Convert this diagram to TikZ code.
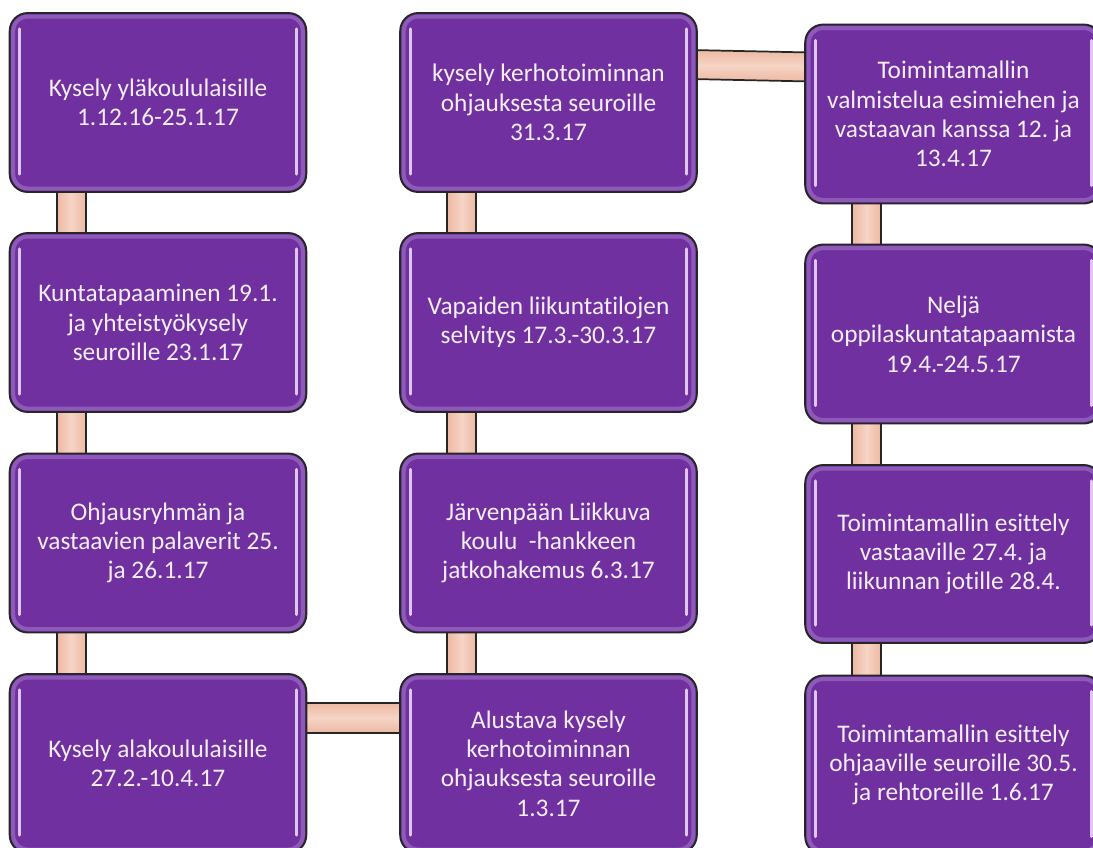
\documentclass[tikz,border=0pt]{standalone}
\usepackage{fontspec}
\setmainfont{Carlito}[Ligatures=NoCommon]
\usetikzlibrary{calc,backgrounds}
\definecolor{boxpurple}{HTML}{7030A0}
\definecolor{boxedge}{HTML}{262626}
\definecolor{boxtext}{HTML}{F4EEF9}
\definecolor{glossrim}{HTML}{A57FCB}
\definecolor{streakcol}{HTML}{EAD7F8}
\definecolor{linkfill}{HTML}{EDB9A3}
\definecolor{linkmid}{HTML}{F6D4C5}
\frenchspacing
\begin{document}
\begin{tikzpicture}[x=0.75pt,y=-0.75pt,
  stage/.style={rectangle, rounded corners=13.5pt, fill=boxpurple, draw=boxedge,
    line width=1.4pt, text=boxtext, align=center, inner sep=0pt, outer sep=0pt,
    minimum width=222.5pt, minimum height=134.25pt,
    font=\fontsize{19pt}{22pt}\selectfont},
  vlink/.style={draw=boxedge, line width=1.3pt, left color=linkfill, right color=linkfill, middle color=linkmid},
  hlink/.style={draw=boxedge, line width=1.3pt, top color=linkfill, bottom color=linkfill, middle color=linkmid},
  rim/.style={draw=glossrim, line width=3pt, rounded corners=11pt, opacity=0.55},
  streakline/.style={draw=streakcol, line width=2.4pt, line cap=round, opacity=0.9}]
\useasboundingbox (0,0) rectangle (1093,847);
\clip (0,0) rectangle (1093,847);

% first column
\node[stage] (c1r1) at (158,102.5) {Kysely yläkoululaisille\\1.12.16-25.1.17};
\node[stage] (c1r2) at (158,322.5) {Kuntatapaaminen 19.1.\\ja yhteistyökysely\\seuroille 23.1.17};
\node[stage] (c1r3) at (158,543) {Ohjausryhmän ja\\vastaavien palaverit 25.\\ja 26.1.17};
\node[stage] (c1r4) at (158,763.5) {Kysely alakoululaisille\\27.2.-10.4.17};

% second column
\node[stage] (c2r1) at (548.5,102.5) {kysely kerhotoiminnan\\ohjauksesta seuroille\\31.3.17};
\node[stage] (c2r2) at (548.5,322.5) {Vapaiden liikuntatilojen\\selvitys 17.3.-30.3.17};
\node[stage] (c2r3) at (548.5,543) {Järvenpään Liikkuva\\koulu\ \ -hankkeen\\jatkohakemus 6.3.17};
\node[stage] (c2r4) at (548.5,763.5) {Alustava kysely\\kerhotoiminnan\\ohjauksesta seuroille\\1.3.17};

% third column
\node[stage] (c3r1) at (953.5,114) {Toimintamallin\\valmistelua esimiehen ja\\vastaavan kanssa 12. ja\\13.4.17};
\node[stage] (c3r2) at (953.5,334) {Neljä\\oppilaskuntatapaamista\\19.4.-24.5.17};
\node[stage, minimum height=133.5pt] (c3r3) at (953.5,554) {Toimintamallin esittely\\vastaaville 27.4. ja\\liikunnan jotille 28.4.};
\node[stage] (c3r4) at (953.5,765) {Toimintamallin esittely\\ohjaaville seuroille 30.5.\\ja rehtoreille 1.6.17};

% glossy bevel on every box
\foreach \n in {c1r1,c1r2,c1r3,c1r4,c2r1,c2r2,c2r3,c2r4,c3r1,c3r2,c3r3,c3r4} {
  \draw[rim] ($(\n.north west)+(3.5,3.5)$) rectangle ($(\n.south east)+(-3.5,-3.5)$);
  \draw[streakline] ($(\n.north west)+(10,16)$) -- ($(\n.south west)+(10,-18)$);
  \draw[streakline] ($(\n.north east)+(-10,16)$) -- ($(\n.south east)+(-10,-18)$);
}

% connecting bars, behind the boxes
\begin{scope}[on background layer]
  \foreach \a/\b in {c1r1/c1r2,c1r2/c1r3,c1r3/c1r4,c2r2/c2r1,c2r3/c2r2,c2r4/c2r3,c3r1/c3r2,c3r2/c3r3,c3r3/c3r4} {
    \draw[vlink] ($(\a.south west)+(47,-6)$) rectangle ($(\b.north west)+(76,6)$);
  }
  \draw[hlink] ($(c1r4.north east)+(-6,29)$) rectangle ($(c2r4.north west)+(6,59)$);
  \draw[hlink] ($(c2r1.north east)+(-6,37)$) -- ($(c3r1.north west)+(6,28)$)
     -- ($(c3r1.north west)+(6,57)$) -- ($(c2r1.north east)+(-6,66)$) -- cycle;
\end{scope}
\end{tikzpicture}
\end{document}
